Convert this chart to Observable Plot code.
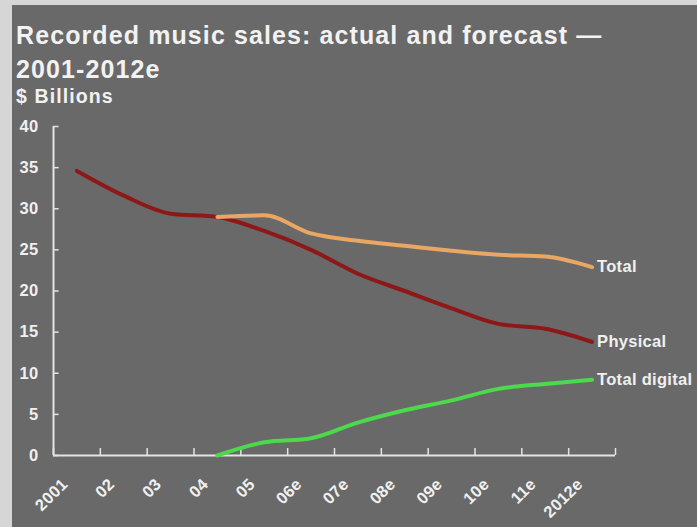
<!DOCTYPE html>
<html><head><meta charset="utf-8">
<script src="https://cdn.jsdelivr.net/npm/d3@7"></script>
<script src="https://cdn.jsdelivr.net/npm/@observablehq/plot@0.6"></script>
<style>
html,body{margin:0;padding:0;}
body{background:#d6d6d6;width:697px;height:527px;overflow:hidden;position:relative;font-family:"Liberation Sans",Arial,sans-serif;}
#frame{position:absolute;left:12px;top:5px;width:685px;height:522px;background:#696969;}
.t{position:absolute;left:4px;color:#f2f2f2;font-weight:bold;white-space:nowrap;margin:0;}
#chart{position:absolute;left:0;top:105px;}
#chart svg text{letter-spacing:0.3px;}
</style></head><body>
<div id="frame">
<div class="t" style="top:13px;font-size:25px;line-height:34px;letter-spacing:1.1px;">Recorded music sales: actual and forecast —<br>2001-2012e</div>
<div class="t" style="top:82px;font-size:19.5px;line-height:19.5px;letter-spacing:1.1px;">$ Billions</div>
<div id="chart"></div>
</div>
<script>
const years = ["2001","02","03","04","05","06e","07e","08e","09e","10e","11e","2012e"];
const physical = [34.6,31.6,29.4,29.0,27.3,25.0,22.1,20.0,17.9,16.0,15.4,13.8];
const total = [null,null,null,29.0,29.2,27.0,26.1,25.5,24.9,24.4,24.2,22.9];
const digital = [null,null,null,0,1.6,2.1,4.0,5.5,6.7,8.1,8.7,9.2];
const yTicks = [0,5,10,15,20,25,30,35,40];
const seriesNames = ["Total","Physical","Total digital"];
const seriesColors = ["#eaa663","#8e1818","#4cd94c"];

const rows = s => years.map((y,i)=>({pos:i+0.5, value:s[i]})).filter(d=>d.value!=null);
const seriesData = [total, physical, digital];
const ends = seriesNames.map((n,k)=>({name:n, value:seriesData[k][years.length-1], pos:years.length-0.5}));
const axisColor = "#e4e4e4";
const textColor = "#f0f0f0";

const plot = Plot.plot({
  width: 685, height: 417,
  marginLeft: 41, marginRight: 82, marginTop: 16, marginBottom: 72,
  style: {background:"transparent", fontFamily:"'Liberation Sans', Arial, sans-serif", overflow:"visible"},
  x: {type:"linear", domain:[0, years.length], axis:null},
  y: {domain:[0,40], axis:null},
  marks: [
    Plot.ruleY(yTicks, {y:d=>d, x1:0, x2:0.12, stroke:axisColor, strokeWidth:1.5}),
    Plot.ruleX(d3.range(years.length+1), {x:d=>d, y1:0, y2:0.85, stroke:axisColor, strokeWidth:1.5}),
    Plot.ruleX([0], {y1:0, y2:40, stroke:axisColor, strokeWidth:2}),
    Plot.ruleY([0], {x1:0, x2:years.length, stroke:axisColor, strokeWidth:2}),
    Plot.text(yTicks, {x:0, y:d=>d, text:d=>String(d), textAnchor:"end", dx:-15, fill:textColor, fontSize:16.5, fontWeight:"bold"}),
    Plot.text(years, {x:(d,i)=>i+0.5, y:0, text:d=>d, rotate:-45, textAnchor:"end", lineAnchor:"middle", dx:-12, dy:26, fill:textColor, fontSize:16.5, fontWeight:"bold"}),
    Plot.line(rows(physical), {x:"pos", y:"value", stroke:seriesColors[1], strokeWidth:4, strokeLinejoin:"round", strokeLinecap:"round", curve:"monotone-x"}),
    Plot.line(rows(total), {x:"pos", y:"value", stroke:seriesColors[0], strokeWidth:4, strokeLinejoin:"round", strokeLinecap:"round", curve:"monotone-x"}),
    Plot.line(rows(digital), {x:"pos", y:"value", stroke:seriesColors[2], strokeWidth:4, strokeLinejoin:"round", strokeLinecap:"round", curve:"monotone-x"}),
    Plot.text(ends, {x:"pos", y:"value", text:"name", textAnchor:"start", dx:5, fill:textColor, fontSize:16.5, fontWeight:"bold"})
  ]
});
document.getElementById("chart").appendChild(plot);
</script>
</body></html>
